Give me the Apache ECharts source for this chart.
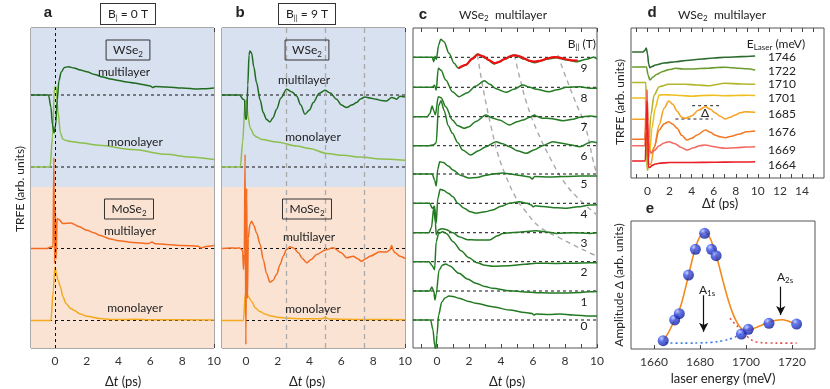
<!DOCTYPE html>
<html>
<head>
<meta charset="utf-8">
<script src="https://cdn.jsdelivr.net/npm/echarts@6/dist/echarts.min.js"></script>
<style>
  html, body { margin: 0; padding: 0; background: #fff; }
  #chart { width: 830px; height: 389px; }
</style>
</head>
<body>
<div id="chart"></div>
<script>
// ---- panel a : B = 0 T  (t in ps, signal relative to its own baseline) ----
const aWseMulti = [[-1.5,0],[-0.4,0],[-0.25,-12],[-0.15,-30],[-0.05,-38],[0.05,-30],[0.15,-5],[0.25,14],[0.4,23],[0.6,27.5],[0.85,28.3],[1.2,27],[1.6,25],[2.0,23.3],[2.5,20.5],[3.0,18],[3.5,16],[4.0,14.5],[4.5,13],[5.0,12],[5.5,10.5],[6.0,9],[6.15,7.5],[6.3,8.5],[7.0,8],[8.0,7],[9.0,6],[9.5,6.3],[10,7]];
const aWseMono = [[-1.5,0],[-0.3,0],[-0.15,30],[-0.02,80],[0.08,80],[0.2,55],[0.35,34],[0.5,28],[0.7,26.5],[1.0,25.5],[1.7,24],[2.8,21.7],[4.9,17.4],[7.0,12.7],[8.5,10],[10,7.4]];
const aMoMulti = [[-1.5,0],[-0.5,0],[-0.25,1.5],[-0.12,2],[-0.06,91],[-0.02,-15],[0.03,40],[0.08,-10],[0.14,30],[0.25,29],[0.5,25],[1.0,25.6],[1.5,22],[2.0,18.3],[2.5,15.5],[2.8,13.3],[3.5,9.5],[4.0,7.8],[4.9,6],[5.9,5],[6.1,6.5],[6.3,4.8],[7.0,4],[8.0,3],[9.0,2.3],[9.2,0.5],[9.5,2],[10,3]];
const aMoMono = [[-1.5,0],[-0.25,0],[-0.1,30],[0,53.6],[0.1,47],[0.2,40],[0.35,33.6],[0.5,24],[0.7,17],[1.0,12],[1.2,10.3],[1.6,6.5],[2.0,4.3],[2.8,2],[3.5,1],[4,1],[5,1.2],[6,0.8],[10,0.5]];

// ---- panel b : B = 9 T ----
const bWseMulti = [[-1.5,0],[-0.4,0],[-0.17,-4.3],[-0.08,-5],[-0.03,-24],[0.05,-24],[0.12,10],[0.2,40],[0.25,44],[0.36,42],[0.5,28],[0.67,12.4],[0.9,-5],[1.09,-17.6],[1.3,-24.5],[1.51,-27],[1.7,-23],[1.93,-14.3],[2.2,-3],[2.56,5.7],[2.9,3],[3.19,-1],[3.45,-10],[3.71,-19.3],[4.0,-15],[4.24,-7.6],[4.6,1.5],[4.97,4.7],[5.3,2],[5.7,-4.3],[6.0,-10],[6.33,-12.6],[6.65,-10],[6.96,-7.6],[7.2,-4],[7.48,-2],[7.8,-3],[8.2,-4.3],[8.5,-5.5],[8.84,-6],[9.16,-2.6],[9.3,-3],[9.47,-4.3],[9.68,-1.3],[10,-2]];
const bWseMono = [[-1.5,0],[-0.35,0],[-0.2,25],[-0.05,65],[0.02,67],[0.15,50],[0.25,40],[0.36,36.7],[0.5,32],[0.67,30],[1.0,27.5],[1.93,25],[3.19,21],[4.0,18.5],[5.1,13.4],[6.1,11.7],[7.2,10],[8.5,8],[10,6.7]];
const bMoMulti = [[-1.5,0],[-1.0,0.5],[-0.6,0.3],[-0.4,0.5],[-0.25,-1],[-0.2,-3],[-0.15,-21],[-0.1,-5],[-0.05,94],[0.0,-96],[0.05,60],[0.1,-50],[0.15,10],[0.25,24],[0.36,27.3],[0.5,23],[0.67,15.7],[0.9,4],[1.09,-11],[1.3,-25],[1.51,-33.7],[1.7,-32],[1.93,-26],[2.15,-16],[2.35,-7.7],[2.55,-1],[2.77,1.7],[3.0,0.5],[3.3,-4.3],[3.55,-10],[3.82,-14.3],[4.1,-11],[4.45,-6],[5.0,-1.5],[5.49,0.7],[6.0,-4.3],[6.33,-9.3],[6.75,-7.7],[7.0,-10],[7.27,-12.7],[7.55,-10],[7.8,-7.7],[8.43,-3.3],[8.84,-3.6],[9.05,-1.5],[9.16,3],[9.27,-2],[9.37,-4.3],[9.68,-7.7],[10,-10]];
const bMoMono = [[-1.5,0],[-0.15,0],[-0.05,25],[0.02,30],[0.15,24],[0.36,19],[0.6,12.5],[0.88,9],[1.2,6.5],[1.51,4.7],[2.0,3.3],[2.56,2.4],[3.5,1.8],[4.8,1.8],[4.97,3],[5.2,1.6],[6,1.2],[8,1],[10,0.8]];
const abOffsets = [253, 181, 99.5, 27.5];   // baselines of the four traces
const splitLevel = 161;                    // WSe2 / MoSe2 background split
const bGuides = [2.55, 4.97, 7.42];        // grey guide lines in b (ps)

// ---- panel c : field series, B|| = 9 ... 0 T ----
const cFields = [9, 8, 7, 6, 5, 4, 3, 2, 1, 0];
const cOffsets = [290.7, 260.7, 231.3, 202.3, 174, 144.7, 115.3, 86.3, 57, 28];
const cB9 = [[-1.5,0],[-0.3,0],[-0.2,-4.4],[-0.12,1],[-0.04,-2],[0.1,12],[0.23,18],[0.44,15.6],[0.75,4],[1.07,-6],[1.34,-11],[1.8,-7.7],[2.2,-1],[2.54,3.3],[3.06,-1],[3.58,-6.7],[4.21,-2],[4.84,2.3],[5.47,-2],[6.1,-5.4],[6.83,-2],[7.46,-0.4],[8.1,-2.7],[8.72,-4.4],[9.35,-2],[9.77,0],[10,-1.5]];
const cB8 = [[-1.5,0],[-0.3,0],[-0.15,2],[-0.05,-3],[0.08,19],[0.25,17],[0.55,7.3],[0.96,-4.4],[1.38,-9.4],[1.9,-5.4],[2.4,1],[2.96,6.6],[3.3,3],[3.69,-1.5],[4.32,-5],[4.8,-2],[5.37,2.3],[5.8,0],[6.2,-2],[7.0,-4.4],[7.5,-2.5],[8.1,0],[8.93,0.6],[9.56,-1],[10,-1]];
const cB7 = [[-1.5,0],[-0.6,0],[-0.45,3],[-0.3,10.7],[-0.2,6],[-0.1,2],[0.08,20],[0.25,19],[0.55,10],[0.96,-3.3],[1.3,-9],[1.7,-11.6],[2.0,-10],[2.43,-4.7],[3.06,1.7],[3.5,-1.5],[3.9,-3.3],[4.53,-8.3],[5.0,-5],[5.37,-3.3],[5.8,-0.5],[6.1,1.7],[6.2,0.5],[6.6,-1.5],[7.04,-1.7],[7.88,-4],[8.5,-2.5],[8.93,-0.5],[9.56,0.7],[10,0]];
const cB6 = [[-1.5,0],[-0.5,0],[-0.2,1],[-0.05,3],[0.1,40],[0.25,45],[0.45,35],[0.7,20],[0.96,12.4],[1.3,3],[1.6,-4.3],[2.1,-9.3],[2.6,-5],[3.06,-1],[3.69,4],[4.1,2],[4.53,-1],[5.0,-5],[5.58,-7.6],[6.1,-4],[6.6,0],[7.25,4],[7.8,2.5],[8.3,1],[8.93,-1],[9.67,4],[10,3]];
const cB5 = [[-1.5,0],[-0.3,0],[-0.15,-6],[-0.05,-12],[0.05,5],[0.17,12.3],[0.4,11.5],[0.7,8],[1.0,4],[1.5,-1.5],[2.0,-4],[2.5,-3.5],[3.0,-1.5],[3.5,0],[4.1,1],[4.6,0],[5.2,-1.5],[5.8,-3],[5.95,-5],[6.1,-2.5],[7.0,-3],[8.0,-2.5],[9.0,-2],[10,-2]];
const cB4 = [[-1.5,0],[-0.45,0],[-0.3,-5],[-0.15,-3],[-0.05,-20],[0.05,5],[0.2,14],[0.4,13],[0.7,10],[1.0,6.5],[1.3,0],[1.7,-5],[2.1,-8.5],[2.43,-10],[3.0,-8.5],[3.48,-6.7],[4.0,-3],[4.53,0],[5.16,1.6],[5.6,0],[5.9,-1.7],[6.0,-3.5],[6.15,-2.5],[6.62,-3.3],[7.5,-4.5],[8.1,-5],[8.8,-3.5],[9.56,-1.7],[10,-1.5]];
const cB3 = [[-1.5,0],[-0.5,0],[-0.35,5],[-0.2,25],[-0.1,10],[-0.05,-2],[0.1,3],[0.3,4],[0.55,3.3],[1.0,0],[1.38,-4],[1.9,-7],[2.43,-7.3],[3.27,-7.3],[3.8,-3],[4.1,-0.7],[5,0.5],[6.2,2],[7.0,0.5],[7.46,-0.7],[8.5,0],[9.56,-0.7],[10,0]];
const cB2 = [[-1.5,0],[-0.5,0],[-0.3,-4],[-0.15,-8],[-0.05,20],[0.1,28],[0.35,30],[0.6,28],[1.0,20],[1.5,11],[2.0,4],[2.5,-1],[3.0,-3.5],[3.5,-4.5],[4.5,-4],[5.5,-2.5],[6.2,-1.5],[7.5,-1.8],[8.5,-1.5],[9.56,-1],[10,-1]];
const cB1 = [[-1.5,0],[-0.45,0],[-0.33,4],[-0.2,0],[-0.13,-9],[-0.05,-3],[0.13,21],[0.35,26],[0.55,27],[0.8,25],[1.38,17.7],[1.9,12],[2.43,7.7],[3.0,4.5],[3.48,2.7],[4.53,0.3],[5.5,-1],[6.2,-1.7],[7,-2],[8,-2],[9,-1.5],[9.56,-0.7],[10,-0.5]];
const cB0 = [[-1.5,0],[-0.4,0],[-0.25,-10],[-0.15,-25],[-0.08,-30],[0.0,-15],[0.1,5],[0.3,18],[0.5,22],[0.75,24],[1.0,23.5],[1.38,21.7],[2.0,18.5],[2.43,16.7],[3.48,13.3],[4.53,10],[5.5,7.5],[5.95,6.5],[6.05,5],[6.2,6],[7,5.5],[7.7,6],[8.5,5],[9.56,4],[10,4]];
const cFit9 = [[1.34,-11],[1.8,-7.5],[2.2,-1.5],[2.54,2.8],[2.9,1],[3.2,-2.5],[3.58,-5.8],[3.9,-4.5],[4.21,-1.8],[4.6,1.3],[4.84,2],[5.1,1.3],[5.47,-1.3],[5.8,-3.5],[6.1,-4.3],[6.5,-3.3],[6.83,-1.5],[7.2,0],[7.46,0.2],[7.8,-0.8],[8.1,-2.2],[8.4,-3],[8.8,-3.2]];
// grey guides following the oscillation maxima through the field series
const cGuide1 = [[2.53,293],[2.75,271.3],[3.02,248],[3.38,221.3],[3.79,194.7],[4.32,171.3],[4.95,149.7],[5.47,138],[6.42,121],[7.67,110],[9.56,95],[10,92]];
const cGuide2 = [[4.84,293],[5.16,271],[5.6,245],[6.23,218],[7.04,191],[7.86,168],[8.74,151],[10,133]];
const cGuide3 = [[7.55,293],[8.05,271],[8.68,245],[9.25,223],[9.75,188],[10,173]];

// ---- panel d : laser energy series ----
const dEnergies = [1746, 1722, 1710, 1701, 1685, 1676, 1669, 1664];
const dOffsets = [126, 111, 95.5, 80, 58.7, 38.7, 32.3, 17];
const d1746 = [[-1.4,0],[-0.4,0],[-0.25,1.5],[-0.12,4],[0.0,-2],[0.1,-12],[0.21,-15.7],[0.4,-14.5],[0.72,-13],[1.5,-11],[2.53,-9.7],[3.5,-8.5],[4.94,-7],[6,-6],[7.05,-5.3],[8.5,-4.6],[9.76,-4]];
const d1722 = [[-1.4,0],[-0.1,0],[0.05,-8],[0.21,-13],[0.5,-10],[0.8,-7.5],[1.33,-4.7],[2.0,-2.5],[2.53,-1.3],[3.2,-2],[4.0,-2],[4.8,-1.5],[5.5,-1.3],[6.3,-0.5],[7.05,-0.3],[7.7,-0.7],[8.25,-1.3],[9.0,-1.7],[9.76,-3]];
const d1710 = [[-1.4,0],[-0.15,0],[-0.1,-40],[-0.05,-87.5],[0.05,-87.5],[0.12,-60],[0.3,-32.5],[0.6,-12.5],[1.05,-4.2],[1.93,-1.8],[3.4,-1.8],[4.5,-2.5],[5.5,-3.2],[7.05,-0.8],[8.5,-1.5],[9.76,-1.8]];
const d1701 = [[-1.4,0],[-0.2,0],[-0.08,-30],[0.05,-60],[0.2,-55],[0.4,-30],[0.7,-10],[1.05,3],[1.5,3.3],[2.2,3],[3.0,2.5],[4.0,1.7],[5.0,2.5],[6.0,2.7],[7.0,2.3],[8.0,2.5],[9.0,2.7],[9.76,2.5]];
const d1685 = [[-1.4,0],[-0.2,0],[-0.05,-15],[0.1,-45],[0.3,-45],[0.6,-28],[1.05,-5.7],[1.5,11],[1.93,18.3],[2.3,15],[2.68,8],[3.1,2],[3.43,1],[3.8,2.5],[4.03,3.5],[4.6,9],[5.24,12.6],[5.7,10],[6.1,6.6],[6.6,3],[7.05,0.3],[7.5,2],[7.95,4.3],[8.4,6.5],[8.85,7.6],[9.3,7.3],[9.76,7]];
const d1676 = [[-1.4,0],[-0.25,0],[-0.12,30],[-0.05,50],[0.05,0],[0.2,-12],[0.35,-14],[0.6,-8],[1.05,9.3],[1.5,15.5],[1.93,17.6],[2.3,15],[2.68,11],[3.1,4],[3.58,-0.7],[4.0,1],[4.5,4.3],[5.24,9.3],[5.7,7],[6.1,4.3],[6.6,2.5],[7.05,1.6],[7.6,3],[8.25,5],[9.0,7.5],[9.76,8.3]];
const d1669 = [[-1.4,0],[-0.25,0],[-0.12,25],[-0.05,55],[0.05,10],[0.15,-5],[0.35,-7],[0.6,-5],[1.05,0],[1.5,2.7],[1.93,4],[2.5,2],[3.0,-1.5],[3.58,-4.3],[4.2,-2],[4.7,0],[5.24,0.7],[5.8,-0.5],[6.4,-1.8],[7.05,-2.6],[8,-2],[9,-1.3],[9.76,-1]];
const d1664 = [[-1.4,0],[-0.2,0],[-0.12,30],[-0.05,60],[0.0,40],[0.08,-6],[0.2,-6.5],[0.4,-4.5],[0.7,-3],[1.05,-2.3],[2,-1.5],[4,-1.5],[6,-1.3],[8,-1],[9.76,-0.7]];
const dDeltaHigh = [[4.04,72.3],[6.6,72.3]];
const dDeltaLow = [[2.53,59],[5.9,59]];

// ---- panel e : oscillation amplitude vs laser energy ----
const eEnergy = [1664, 1669, 1671, 1675, 1678, 1682, 1685, 1687, 1698, 1701, 1710, 1722];
const eAmp = [6.5, 22.7, 27.6, 57.8, 77.9, 90.4, 77.9, 72.9, 11.7, 15.4, 20.1, 19.5];
const eFit = [[1664,6.5],[1666,12],[1668,19],[1670,26],[1672,36],[1674,50],[1676,65],[1678,79],[1680,88],[1682,91.5],[1684,88],[1686,79],[1688,67],[1690,53],[1692,40],[1694,29],[1696,21],[1698,16],[1700,14.5],[1702,15],[1704,16.5],[1706,18],[1708,19.5],[1710,21],[1712,22],[1714,22.7],[1716,22.8],[1718,22],[1720,20.8],[1722,19.5]];
const eA1s = [[1665,4.9],[1670,4.6],[1675,4.6],[1680,4.8],[1685,5.2],[1690,6.5],[1694,8.5],[1697,11],[1700,14.5],[1702,16.4]];
const eA2s = [[1693,24],[1695,20],[1697,16.5],[1699,13],[1701,9],[1703,6.5],[1705,5.3],[1710,4.7],[1716,4.6],[1722,4.6]];

const chart = echarts.init(document.getElementById('chart'));

const FONT = 'Lato, "Open Sans", sans-serif';
const tTicks = [-1,0,1,2,3,4,5,6,7,8,9,10];
const tLabels = [0,2,4,6,8,10];

function xAx(grid, min, max, ticks, labels, top) {
  return {
    type: 'value', gridIndex: grid, min: min, max: max, position: top ? 'top' : 'bottom',
    axisLine: { show: false }, splitLine: { show: false },
    axisTick: { show: true, inside: true, length: 4, customValues: ticks, lineStyle: { color: '#444' } },
    axisLabel: { show: !top, customValues: labels, color: '#333', fontSize: 12, fontFamily: FONT, margin: 7,
      formatter: v => String(v) }
  };
}
function yAx(grid, min, max) {
  return {
    type: 'value', gridIndex: grid, min: min, max: max,
    axisLine: { show: false }, axisTick: { show: false }, axisLabel: { show: false }, splitLine: { show: false }
  };
}
function trace(xi, yi, pts, off, color, w, z) {
  return {
    type: 'line', xAxisIndex: xi, yAxisIndex: yi, data: pts.map(p => [p[0], p[1] + off]),
    symbol: 'none', smooth: 0.3, smoothMonotone: 'x', silent: true,
    lineStyle: { color: color, width: w || 1.5 }, z: z || 4
  };
}
function dashH(xi, yi, x0, x1, y, color) {
  return {
    type: 'line', xAxisIndex: xi, yAxisIndex: yi, data: [[x0, y], [x1, y]], symbol: 'none', silent: true,
    lineStyle: { color: color || '#111', width: 1, type: [3, 3] }, z: 3
  };
}
function guide(xi, yi, pts) {
  return {
    type: 'line', xAxisIndex: xi, yAxisIndex: yi, data: pts, symbol: 'none', smooth: 0.4, silent: true,
    lineStyle: { color: '#aaa', width: 1.4, type: [5, 4] }, z: 2
  };
}
function background(xi, yi) {
  return {
    type: 'line', xAxisIndex: xi, yAxisIndex: yi, data: [[0, 0]], symbol: 'none', silent: true,
    lineStyle: { opacity: 0 }, z: 1,
    markArea: {
      silent: true,
      data: [
        [{ yAxis: splitLevel, itemStyle: { color: '#d8e1f0' } }, { yAxis: 320 }],
        [{ yAxis: 0, itemStyle: { color: '#fbe3d4' } }, { yAxis: splitLevel }]
      ]
    }
  };
}

const GREEN_D = '#1f6b1f', GREEN_L = '#8dbf4c', ORANGE = '#f36c21', GOLD = '#f4aa1e';
const C_GREEN = '#237a23';
const dColors = ['#2e6b30', '#6b9a2e', '#b3b52c', '#efbf1f', '#f5a322', '#f27a26', '#f26a62', '#ec1c24'];
const dTraces = [d1746, d1722, d1710, d1701, d1685, d1676, d1669, d1664];
const cTraces = [cB9, cB8, cB7, cB6, cB5, cB4, cB3, cB2, cB1, cB0];

const series = [];
// panel a
series.push(background(0, 0));
series.push({ type: 'line', xAxisIndex: 0, yAxisIndex: 0, data: [], silent: true, z: 3,
  markLine: { silent: true, symbol: 'none', label: { show: false },
    lineStyle: { color: '#111', width: 1, type: [3, 3] }, data: [{ xAxis: 0 }] } });
abOffsets.forEach(o => series.push(dashH(0, 0, -1.5, 10, o)));
series.push(trace(0, 0, aWseMono, abOffsets[1], GREEN_L));
series.push(trace(0, 0, aWseMulti, abOffsets[0], GREEN_D));
series.push(trace(0, 0, aMoMono, abOffsets[3], GOLD));
series.push(trace(0, 0, aMoMulti, abOffsets[2], ORANGE));
// panel b
series.push(background(2, 1));
series.push({ type: 'line', xAxisIndex: 2, yAxisIndex: 1, data: [], silent: true, z: 2,
  markLine: { silent: true, symbol: 'none', label: { show: false },
    lineStyle: { color: '#aaa', width: 1.3, type: [5, 4] }, data: bGuides.map(g => ({ xAxis: g })) } });
abOffsets.forEach(o => series.push(dashH(2, 1, -1.5, 10, o)));
series.push(trace(2, 1, bWseMono, abOffsets[1], GREEN_L));
series.push(trace(2, 1, bWseMulti, abOffsets[0], GREEN_D));
series.push(trace(2, 1, bMoMono, abOffsets[3], GOLD));
series.push(trace(2, 1, bMoMulti, abOffsets[2], ORANGE));
// panel c
[cGuide1, cGuide2, cGuide3].forEach(g => series.push(guide(4, 2, g)));
cOffsets.forEach(o => series.push(dashH(4, 2, -1.5, 10, o)));
cTraces.forEach((tr, i) => series.push(trace(4, 2, tr, cOffsets[i], C_GREEN, 1.5)));
series.push(trace(4, 2, cFit9, cOffsets[0], '#ee1111', 2.2, 6));
// panel d
dTraces.forEach((tr, i) => series.push(trace(6, 3, tr, dOffsets[i], dColors[i], 1.6, 4 + i * 0.01)));
series.push(dashH(6, 3, dDeltaHigh[0][0], dDeltaHigh[1][0], dDeltaHigh[0][1], '#222'));
series.push(dashH(6, 3, dDeltaLow[0][0], dDeltaLow[1][0], dDeltaLow[0][1], '#222'));
// panel e
series.push({ type: 'line', xAxisIndex: 8, yAxisIndex: 4, data: eA1s, symbol: 'none', smooth: 0.4, silent: true,
  lineStyle: { color: '#3b7be0', width: 1.6, type: [2, 3] }, z: 3 });
series.push({ type: 'line', xAxisIndex: 8, yAxisIndex: 4, data: eA2s, symbol: 'none', smooth: 0.4, silent: true,
  lineStyle: { color: '#e5504f', width: 1.6, type: [2, 3] }, z: 3 });
series.push({ type: 'line', xAxisIndex: 8, yAxisIndex: 4, data: eFit, symbol: 'none', smooth: 0.4, silent: true,
  lineStyle: { color: '#f28a1e', width: 1.6 }, z: 4,
  markLine: { silent: true, symbol: ['none', 'arrow'], symbolSize: [7, 9], label: { show: false },
    lineStyle: { color: '#111', width: 1.2, type: 'solid' },
    data: [
      [{ coord: [1681.6, 42] }, { coord: [1681.6, 13.5] }],
      [{ coord: [1715.1, 48.7] }, { coord: [1715.1, 26.6] }]
    ] } });
series.push({ type: 'scatter', xAxisIndex: 8, yAxisIndex: 4, data: eEnergy.map((e, i) => [e, eAmp[i]]),
  symbolSize: 11, silent: true, z: 6,
  itemStyle: { color: new echarts.graphic.RadialGradient(0.35, 0.3, 0.75, [
    { offset: 0, color: '#b8c6ff' }, { offset: 0.35, color: '#3a55ee' }, { offset: 1, color: '#0b168c' }]) } });

// ---- text ----
const sub = { fontSize: 8, fontFamily: FONT, fill: '#222', padding: [7, 0, 0, 0] };
function txt(x, y, text, o) {
  o = o || {};
  const style = Object.assign({
    text: text, x: 0, y: 0, fill: o.color || '#222',
    font: (o.weight || 'normal') + ' ' + (o.size || 12) + 'px ' + (o.family || FONT),
    align: o.align || 'center', verticalAlign: 'middle', textAlign: o.align || 'center', textVerticalAlign: 'middle'
  }, o.style || {});
  if (o.rich) style.rich = o.rich;
  return { type: 'text', x: x, y: y, rotation: o.rot || 0, silent: true, z: 100, style: style };
}
const richStd = {
  n: { fontSize: 12, fontFamily: FONT, fill: '#222' },
  s: sub,
  i: { fontSize: 13, fontFamily: FONT, fill: '#222', fontStyle: 'italic' },
  m: { fontSize: 13, fontFamily: FONT, fill: '#222' }
};
const boxStyle = { borderColor: '#333', borderWidth: 1, padding: [3, 7, 2, 7] };
const texts = [
  txt(48, 13, 'a', { weight: 'bold', size: 15, family: 'Liberation Sans, Arial' }),
  txt(240, 13, 'b', { weight: 'bold', size: 15, family: 'Liberation Sans, Arial' }),
  txt(423, 15, 'c', { weight: 'bold', size: 15, family: 'Liberation Sans, Arial' }),
  txt(652, 13, 'd', { weight: 'bold', size: 15, family: 'Liberation Sans, Arial' }),
  txt(650, 209, 'e', { weight: 'bold', size: 15, family: 'Liberation Sans, Arial' }),
  txt(128, 14, '{n|B}{s||}{n| = 0 T}', { rich: richStd, style: Object.assign({ backgroundColor: '#fff' }, boxStyle) }),
  txt(307, 14, '{n|B}{s|||}{n| = 9 T}', { rich: richStd, style: Object.assign({ backgroundColor: '#fff' }, boxStyle) }),
  txt(128, 50, '{n|WSe}{s|2}', { rich: richStd, style: boxStyle }),
  txt(129, 209, '{n|MoSe}{s|2}', { rich: richStd, style: boxStyle }),
  txt(307, 50, '{n|WSe}{s|2}', { rich: richStd, style: boxStyle }),
  txt(307, 209, '{n|MoSe}{s|2}', { rich: richStd, style: boxStyle }),
  txt(124, 72, 'multilayer'), txt(135, 142, 'monolayer'),
  txt(130, 231, 'multilayer'), txt(135, 308, 'monolayer'),
  txt(304, 80, 'multilayer'), txt(313, 137, 'monolayer'),
  txt(309, 237, 'multilayer'), txt(313, 309, 'monolayer'),
  txt(503, 15, '{n|WSe}{s|2}{n|  multilayer}', { rich: richStd }),
  txt(722, 15, '{n|WSe}{s|2}{n|  multilayer}', { rich: richStd }),
  txt(596, 44, '{n|B}{s|||}{n| (T)}', { rich: richStd, align: 'right' }),
  txt(776, 44, '{n|E}{s|Laser}{n| (meV)}', { rich: richStd }),
  txt(705, 113, 'Δ', { size: 12 }),
  txt(707, 290, '{n|A}{s|1s}', { rich: richStd }),
  txt(785, 277, '{n|A}{s|2s}', { rich: richStd }),
  txt(123, 382, '{m|Δ}{i|t}{m| (ps)}', { rich: richStd }),
  txt(307, 382, '{m|Δ}{i|t}{m| (ps)}', { rich: richStd }),
  txt(507, 382, '{m|Δ}{i|t}{m| (ps)}', { rich: richStd }),
  txt(720, 204, '{m|Δ}{i|t}{m| (ps)}', { rich: richStd }),
  txt(723, 379, 'laser energy (meV)', { size: 13 }),
  txt(20, 189, 'TRFE (arb. units)', { rot: Math.PI / 2, size: 12 }),
  txt(620, 102, 'TRFE (arb. units)', { rot: Math.PI / 2, size: 12 }),
  txt(619, 285, 'Amplitude Δ (arb. units)', { rot: Math.PI / 2, size: 12 })
];
cFields.forEach((b, i) => texts.push(txt(584, [68, 98, 127, 156, 184, 214, 243, 272, 302, 326][i], String(b), { size: 12 })));
dEnergies.forEach((e, i) => texts.push(txt(782, [57, 71, 84, 98, 114, 132, 150, 165][i], String(e), { size: 12 })));

const gridBase = { show: true, borderColor: '#555', borderWidth: 1, backgroundColor: 'transparent', containLabel: false };
chart.setOption({
  animation: false,
  backgroundColor: '#fff',
  grid: [
    Object.assign({ left: 31, top: 28, width: 183, height: 320 }, gridBase),
    Object.assign({ left: 222, top: 28, width: 183, height: 320 }, gridBase),
    Object.assign({ left: 413, top: 28, width: 184, height: 320 }, gridBase),
    Object.assign({ left: 631, top: 28, width: 193, height: 150 }, gridBase),
    Object.assign({ left: 631, top: 221, width: 184, height: 128 }, gridBase)
  ],
  xAxis: [
    xAx(0, -1.5, 10, tTicks, tLabels), xAx(0, -1.5, 10, tTicks, [], true),
    xAx(1, -1.5, 10, tTicks, tLabels), xAx(1, -1.5, 10, tTicks, [], true),
    xAx(2, -1.5, 10, tTicks, tLabels), xAx(2, -1.5, 10, tTicks, [], true),
    xAx(3, -1.5, 16, [-1,0,1,2,3,4,5,6,7,8,9,10,11,12,13,14,15], [0,2,4,6,8,10,12,14]),
    xAx(3, -1.5, 16, [-1,0,1,2,3,4,5,6,7,8,9,10,11,12,13,14,15], [], true),
    xAx(4, 1650, 1730, [1660, 1680, 1700, 1720], [1660, 1680, 1700, 1720])
  ],
  yAxis: [yAx(0, 0, 320), yAx(1, 0, 320), yAx(2, 0, 320), yAx(3, 0, 150), yAx(4, 0, 100)],
  series: series,
  graphic: texts
});
</script>
</body>
</html>
